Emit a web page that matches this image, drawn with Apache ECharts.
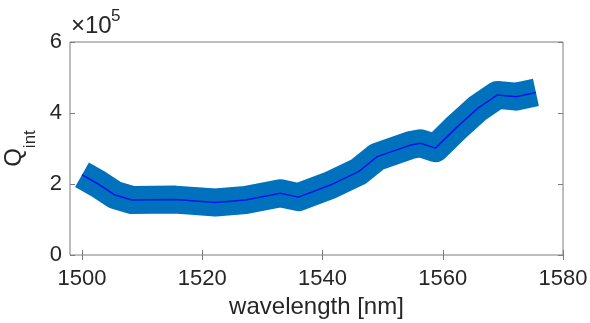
<!DOCTYPE html>
<html>
<head>
<meta charset="utf-8">
<script src="https://cdn.jsdelivr.net/npm/echarts@6/dist/echarts.min.js"></script>
<style>
  html, body { margin: 0; padding: 0; background: #fff; }
  #chart { width: 590px; height: 323px; }
</style>
</head>
<body>
<div id="chart"></div>
<script>
// wavelength in nm, Q_int in units of 1e5
const wavelength = [1500.0, 1502.7, 1505.5, 1508.3, 1515.5, 1522.2, 1527.2, 1533.0, 1536.0,
  1541.3, 1546.0, 1549.1, 1554.7, 1556.3, 1558.8, 1562.4, 1565.8, 1569.1, 1572.2, 1575.5];
const qint = [2.26, 2.00, 1.69, 1.55, 1.56, 1.48, 1.55, 1.74, 1.63,
  1.97, 2.35, 2.77, 3.10, 3.15, 3.01, 3.61, 4.13, 4.51, 4.46, 4.58];
const xTicks = [1500, 1520, 1540, 1560, 1580];
const yTicks = [0, 2, 4, 6];

const points = wavelength.map((w, i) => [w, qint[i]]);

const axisColor = "#7d7d7d";
const textColor = "#262626";
const fontFamily = "Liberation Sans, Arial, sans-serif";

const chart = echarts.init(document.getElementById("chart"), null, { renderer: "canvas" });

const option = {
  backgroundColor: "#fff",
  animation: false,
  grid: {
    left: 70, right: 27, top: 42, bottom: 68,
    outerBoundsMode: "none",
    containLabel: false,
    show: true, borderColor: axisColor, borderWidth: 1, backgroundColor: "transparent",
  },
  graphic: [
    {
      type: "text",
      left: 71,
      top: 14,
      style: { text: "×10", fontSize: 24, fontFamily, fill: textColor },
    },
    {
      type: "text",
      left: 111,
      top: 8,
      style: { text: "5", fontSize: 17, fontFamily, fill: textColor },
    },
  ],
  xAxis: [
    {
      type: "value",
      min: 1498,
      max: 1580,
      position: "bottom",
      name: "wavelength [nm]",
      nameLocation: "middle",
      nameGap: 40,
      nameTextStyle: { color: textColor, fontSize: 24, fontFamily },
      axisLine: { show: false },
      axisTick: { show: true, inside: true, length: 5, customValues: xTicks, lineStyle: { color: axisColor } },
      axisLabel: { color: textColor, fontSize: 22, fontFamily, margin: 13, customValues: xTicks, formatter: (v) => String(v) },
      splitLine: { show: false },
    },
    {
      type: "value",
      min: 1498,
      max: 1580,
      position: "top",
      axisLine: { show: false },
      axisTick: { show: true, inside: true, length: 5, customValues: xTicks, lineStyle: { color: axisColor } },
      axisLabel: { show: false, customValues: xTicks },
      splitLine: { show: false },
    },
  ],
  yAxis: [
    {
      type: "value",
      min: 0,
      max: 6,
      interval: 2,
      position: "left",
      name: "{q|Q}{s|int}",
      nameLocation: "middle",
      nameGap: 32,
      nameTextStyle: {
        rich: {
          q: { fontSize: 24, fontFamily, color: textColor, lineHeight: 30, verticalAlign: "bottom" },
          s: { fontSize: 17, fontFamily, color: textColor, lineHeight: 30, verticalAlign: "bottom", padding: [0, 0, -12, 0] },
        },
      },
      axisLine: { show: false },
      axisTick: { show: true, inside: true, length: 5, lineStyle: { color: axisColor } },
      axisLabel: { color: textColor, fontSize: 22, fontFamily, margin: 8, customValues: yTicks, formatter: (v) => String(v) },
      splitLine: { show: false },
    },
    {
      type: "value",
      min: 0,
      max: 6,
      interval: 2,
      position: "right",
      axisLine: { show: false },
      axisTick: { show: true, inside: true, length: 5, lineStyle: { color: axisColor } },
      axisLabel: { show: false },
      splitLine: { show: false },
    },
  ],
  series: [
    {
      name: "band",
      type: "line",
      data: points,
      showSymbol: false,
      symbol: "none",
      clip: false,
      lineStyle: { color: "#0072BD", width: 28, cap: "butt", join: "round" },
      z: 2,
    },
    {
      name: "Q_int",
      type: "line",
      data: points,
      showSymbol: false,
      symbol: "none",
      clip: false,
      lineStyle: { color: "#0a14e6", width: 1.5 },
      z: 3,
    },
  ],
};

chart.setOption(option);
</script>
</body>
</html>
